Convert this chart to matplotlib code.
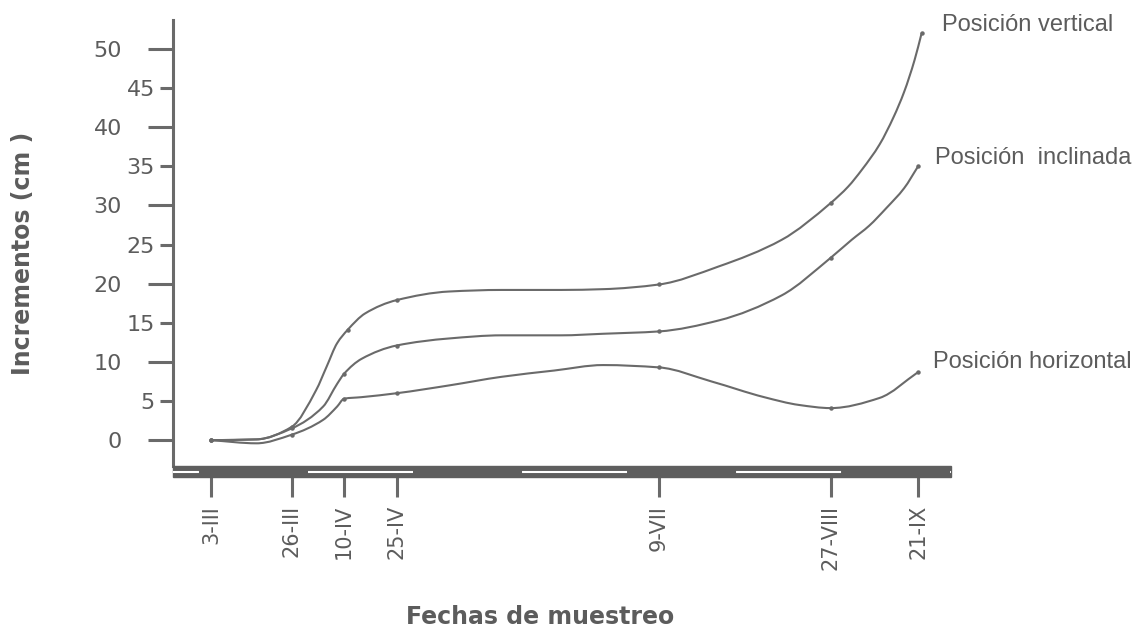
import matplotlib
matplotlib.use("Agg")
import numpy as np
import matplotlib.pyplot as plt
from matplotlib.lines import Line2D
from matplotlib.patches import Rectangle, PathPatch
from matplotlib.path import Path

# fechas de muestreo (dia del año) y sus etiquetas
dias_muestreo = [62, 85, 100, 115, 190, 239, 264]
fechas = ["3-III", "26-III", "10-IV", "25-IV", "9-VII", "27-VIII", "21-IX"]

# valores leidos a lo largo de cada curva (dia, incremento en cm)
dias_vertical = [62, 75, 85, 92, 95, 98, 101, 106, 115, 130, 145, 162, 174, 190,
                 207, 225, 239, 244, 248, 253, 257, 260, 263, 265]
inc_vertical = [0.0, 0.1, 1.7, 6.4, 9.4, 12.4, 14.1, 16.2, 17.9, 19.0, 19.2, 19.2, 19.3, 19.9,
                22.2, 25.6, 30.3, 32.4, 34.6, 37.8, 41.3, 44.5, 48.6, 52.0]

dias_inclinada = [62, 75, 85, 94, 98, 100, 105, 115, 130, 145, 162, 174, 190,
                  207, 225, 239, 245, 250, 255, 260, 264]
inc_inclinada = [0.0, 0.1, 1.5, 4.3, 7.2, 8.5, 10.4, 12.1, 13.0, 13.4, 13.4, 13.6, 13.9,
                 15.3, 18.5, 23.3, 25.6, 27.4, 29.7, 32.2, 35.0]

dias_horizontal = [62, 75, 85, 94, 98, 100, 105, 115, 130, 145, 160, 174, 190,
                   205, 220, 230, 239, 253, 264]
inc_horizontal = [0.0, -0.4, 0.7, 2.6, 4.3, 5.3, 5.5, 6.0, 7.0, 8.1, 8.9, 9.6, 9.3,
                  7.5, 5.5, 4.5, 4.1, 5.4, 8.7]

y_largos = [0, 10, 20, 30, 40, 50]
y_cortos = [5, 15, 25, 35, 45]

gris = "#6a6a6a"
texto = "#5c5c5c"


def trazo_suave(x, y):
    # curva que pasa por los puntos leidos, dibujada con segmentos Bezier
    # (tangentes monotonas para no inventar oscilaciones)
    x = np.asarray(x, float)
    y = np.asarray(y, float)
    h = np.diff(x)
    d = np.diff(y) / h
    m = np.zeros(len(x))
    m[0], m[-1] = d[0], d[-1]
    for i in range(1, len(x) - 1):
        if d[i - 1] * d[i] <= 0:
            m[i] = 0.0
        else:
            w1 = 2 * h[i] + h[i - 1]
            w2 = h[i] + 2 * h[i - 1]
            m[i] = (w1 + w2) / (w1 / d[i - 1] + w2 / d[i])
    verts = [(x[0], y[0])]
    codes = [Path.MOVETO]
    for i in range(len(x) - 1):
        verts += [(x[i] + h[i] / 3, y[i] + m[i] * h[i] / 3),
                  (x[i + 1] - h[i] / 3, y[i + 1] - m[i + 1] * h[i] / 3),
                  (x[i + 1], y[i + 1])]
        codes += [Path.CURVE4] * 3
    return Path(verts, codes)


fig = plt.figure(figsize=(11.35, 6.33), dpi=100)
ax = fig.add_axes([173 / 1135, 1 - 466 / 633, (951 - 173) / 1135, (466 - 20) / 633])

series = [
    (dias_vertical, inc_vertical, "Posición vertical", (270.9, 53.1)),
    (dias_inclinada, inc_inclinada, "Posición  inclinada", (268.9, 36.1)),
    (dias_horizontal, inc_horizontal, "Posición horizontal", (268.3, 10.0)),
]
for dias, inc, nombre, pos in series:
    ax.add_patch(PathPatch(trazo_suave(dias, inc), fill=False, edgecolor=gris,
                           lw=1.5, capstyle="round"))
    # punto del trazo mas cercano a cada fecha de muestreo
    marcas = [min(range(len(dias)), key=lambda i: (abs(dias[i] - f), -dias[i]))
              for f in dias_muestreo]
    ax.plot([dias[i] for i in marcas], [inc[i] for i in marcas], ls="none",
            marker="o", ms=2.2, color=gris)
    ax.text(pos[0], pos[1], nombre, ha="left", va="center", fontsize=17, color=texto,
            family=["Liberation Sans", "DejaVu Sans"], clip_on=False)

ax.set_xlim(51.1, 273.4)
ax.set_ylim(-3.3, 53.7)

for s in ["top", "right", "bottom"]:
    ax.spines[s].set_visible(False)
ax.spines["left"].set_color(gris)
ax.spines["left"].set_linewidth(2.2)

# barra gruesa del eje x con trazos blancos
ax.add_patch(Rectangle((0, -0.0247), 1.0, 0.0247, transform=ax.transAxes,
                       color="#5e5e5e", clip_on=False, zorder=3))
lw = 1.5
ax.add_line(Line2D([0, 1], [-0.0125, -0.0125], transform=ax.transAxes, color="white",
                   lw=lw, clip_on=False, zorder=4,
                   linestyle=(56.9 / lw, (75.6 / lw, 78.5 / lw))))

ax.set_xticks(dias_muestreo)
ax.set_xticklabels(fechas)
ax.tick_params(axis="x", length=22.3, width=2.2, pad=5.8, labelrotation=90,
               labelsize=15, color=gris, labelcolor=texto)

ax.set_yticks(y_largos)
ax.set_yticks(y_cortos, minor=True)
ax.set_yticklabels([str(v) for v in y_largos])
ax.set_yticklabels([str(v) for v in y_cortos], minor=True)
ax.tick_params(axis="y", which="major", length=18, width=2.2, pad=18.7,
               labelsize=16, color=gris, labelcolor=texto)
ax.tick_params(axis="y", which="minor", length=9.4, width=2.2, pad=3.6,
               labelsize=16, color=gris, labelcolor=texto)

fig.text(23 / 1135, 1 - 253 / 633, "Incrementos (cm )", rotation=90, ha="center",
         va="center", fontsize=17, fontweight="bold", color=texto)
fig.text(540 / 1135, 1 - 617 / 633, "Fechas de muestreo", ha="center", va="center",
         fontsize=17, fontweight="bold", color=texto)

fig.savefig("out.png", dpi=100, facecolor="white")
